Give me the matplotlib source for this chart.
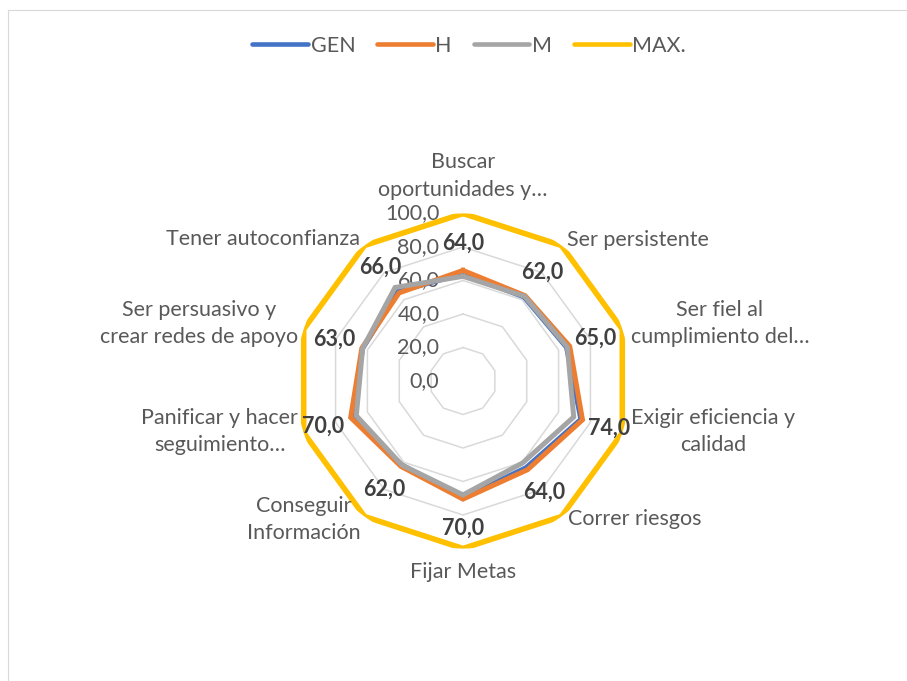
import numpy as np
import matplotlib
matplotlib.use("Agg")
import matplotlib.pyplot as plt
from matplotlib.lines import Line2D

plt.rcParams['font.family'] = ['Lato', 'DejaVu Sans']

categories = ["Buscar\noportunidades y…", "Ser persistente", "Ser fiel al\ncumplimiento del…",
              "Exigir eficiencia y\ncalidad", "Correr riesgos", "Fijar Metas",
              "Conseguir\nInformación", "Panificar y hacer\nseguimiento…",
              "Ser persuasivo y\ncrear redes de apoyo", "Tener autoconfianza"]
gen = [64, 62, 65, 74, 64, 70, 62, 70, 63, 66]
h = [66, 63, 67, 75, 65.5, 70.5, 63, 70.5, 63.5, 65]
m = [62.5, 62.5, 65.5, 69.5, 60.5, 68, 62, 67, 63, 69]
mx = [100, 100, 100, 100, 100, 100, 100, 100, 100, 100]
ticks = [0, 20, 40, 60, 80, 100]
tick_labels = ["0,0", "20,0", "40,0", "60,0", "80,0", "100,0"]
series_names = ["GEN", "H", "M", "MAX."]

colors = ["#4472C4", "#ED7D31", "#A5A5A5", "#FFC000"]

FS = 15.5
W, H = 907, 681
fig = plt.figure(figsize=(W / 100, H / 100), dpi=100)
cx, cy, R = 463, 381, 167.5
ax = fig.add_axes([(cx - R) / W, (H - cy - R) / H, 2 * R / W, 2 * R / H], projection='polar')
ax.set_theta_offset(np.pi / 2)
ax.set_theta_direction(-1)
ax.set_ylim(0, 100)
ax.grid(False)
ax.spines['polar'].set_visible(False)
ax.set_xticks([])
ax.set_yticks([])
ax.patch.set_alpha(0)

n = len(categories)
theta = np.arange(n) * 2 * np.pi / n
theta_c = np.append(theta, theta[0])

def close(v):
    return np.append(v, v[0])

# grid rings
for t in ticks[1:]:
    ax.plot(theta_c, np.full(n + 1, t), color="#D9D9D9", lw=1.1, zorder=1)

# tick labels
for t, lab in zip(ticks, tick_labels):
    ax.annotate(lab, xy=(0, t), xytext=(-17, 0), textcoords='offset points',
                ha='right', va='center', fontsize=FS, color="#595959", zorder=2)

for vals, col, lw in zip([gen, h, m, mx], colors, [3.6, 3.6, 3.6, 4.0]):
    ax.plot(theta_c, close(np.array(vals, dtype=float)), color=col, lw=lw,
            solid_joinstyle='miter', zorder=3)

# data labels (GEN)
for th, v in zip(theta, gen):
    ax.text(th, v + 18, f"{v:.1f}".replace('.', ','), ha='center', va='center',
            fontsize=FS, fontweight='bold', color="#404040", zorder=4)

# category labels
offsets = [(0, 10, 'center', 'bottom'), (4, 4, 'left', 'center'), (6, 4, 'left', 'center'),
           (6, 1, 'left', 'center'), (5, -2, 'left', 'center'), (0, -10, 'center', 'top'),
           (-3, -2, 'right', 'center'), (-4, 1, 'right', 'center'), (-4, 4, 'right', 'center'),
           (-3, 5, 'right', 'center')]
for th, lab, (dx, dy, ha, va) in zip(theta, categories, offsets):
    ax.annotate(lab, xy=(th, 100), xytext=(dx, dy), textcoords='offset points',
                ha=ha, va=va, multialignment='center', fontsize=FS, color="#595959",
                linespacing=1.45, annotation_clip=False)

handles = [Line2D([0], [0], color=c, lw=3.3, solid_capstyle='round') for c in colors]
fig.legend(handles, series_names, loc='center', bbox_to_anchor=(469 / W, 1 - 46 / H),
           ncol=4, frameon=False, fontsize=FS, handlelength=2.6, handletextpad=0.12,
           columnspacing=1.0, labelcolor="#595959")

# chart border
fig.add_artist(Line2D([8 / W, 8 / W], [0, 1 - 10 / H], color="#D9D9D9", lw=0.8, transform=fig.transFigure))
fig.add_artist(Line2D([8 / W, 1], [1 - 10 / H, 1 - 10 / H], color="#D9D9D9", lw=0.8, transform=fig.transFigure))

fig.savefig("out.png", dpi=100, facecolor="white")
